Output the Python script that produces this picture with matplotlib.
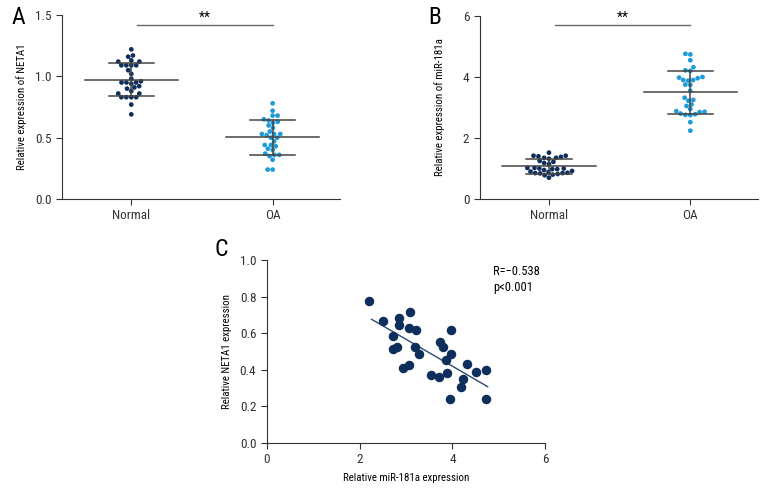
import numpy as np
import matplotlib
matplotlib.use("Agg")
import matplotlib.pyplot as plt
from matplotlib import font_manager
import seaborn as sns

# pick a narrow face if one is installed
installed = {f.name for f in font_manager.fontManager.ttflist}
narrow = [n for n in ['Liberation Sans Narrow', 'Roboto Condensed', 'Open Sans Condensed']
          if n in installed]
plt.rcParams['font.family'] = narrow + ['DejaVu Sans']
plt.rcParams['font.stretch'] = 'condensed'
plt.rcParams['font.size'] = 9

dark = '#0e2f5c'
light = '#1d9ad8'
line_col = '#444444'

groups = ['Normal', 'OA']

# Panel A: relative expression of NETA1
neta1_normal = [1.22, 1.17, 1.16, 1.13, 1.12, 1.12, 1.09, 1.09, 1.09, 1.09,
                1.05, 1.02, 0.98, 0.96, 0.95, 0.95, 0.95, 0.94, 0.92, 0.91,
                0.90, 0.88, 0.86, 0.86, 0.83, 0.83, 0.83, 0.83, 0.77, 0.69]
neta1_oa = [0.78, 0.72, 0.68, 0.68, 0.65, 0.64, 0.63, 0.62, 0.60, 0.58,
            0.55, 0.53, 0.53, 0.53, 0.52, 0.50, 0.50, 0.47, 0.44, 0.44,
            0.43, 0.41, 0.40, 0.37, 0.36, 0.36, 0.35, 0.32, 0.24, 0.24]

# Panel B: relative expression of miR-181a
mir_normal = [1.52, 1.42, 1.42, 1.40, 1.38, 1.35, 1.35, 1.32, 1.22, 1.18,
              1.25, 1.15, 1.02, 1.00, 0.98, 1.02, 1.00, 0.98, 0.95, 0.92,
              0.90, 0.88, 0.86, 0.85, 0.85, 0.84, 0.82, 0.80, 0.78, 0.70]
mir_oa = [4.76, 4.74, 4.55, 4.32, 4.22, 4.20, 4.00, 3.98, 3.96, 3.90,
          3.90, 3.88, 3.75, 3.74, 3.55, 3.32, 3.25, 3.22, 3.10, 3.05,
          2.95, 2.88, 2.86, 2.85, 2.80, 2.78, 2.76, 2.75, 2.52, 2.24]

# Panel C: correlation
corr_x = [2.21, 2.51, 2.85, 2.86, 3.09, 3.07, 3.22, 2.73, 2.71, 2.80,
          3.20, 3.28, 2.93, 3.07, 3.53, 3.71, 3.74, 3.79, 3.97, 3.97,
          3.86, 3.88, 3.95, 4.18, 4.22, 4.31, 4.50, 4.73, 4.72]
corr_y = [0.777, 0.664, 0.681, 0.646, 0.715, 0.626, 0.617, 0.584, 0.515, 0.526,
          0.526, 0.484, 0.409, 0.427, 0.369, 0.358, 0.551, 0.526, 0.617, 0.484,
          0.451, 0.380, 0.239, 0.307, 0.352, 0.429, 0.387, 0.401, 0.241]
corr_text = 'R=\u22120.538\np<0.001'


def dot_panel(ax, a, b, ylim, yticks, ylabel, sig_y):
    vals = a + b
    cats = [groups[0]] * len(a) + [groups[1]] * len(b)
    sns.swarmplot(x=cats, y=vals, hue=cats, palette=[dark, light], size=3.4,
                  linewidth=0, ax=ax, legend=False)
    for i, d in enumerate([a, b]):
        m, s = np.mean(d), np.std(d, ddof=1)
        ax.plot([i - 0.33, i + 0.33], [m, m], color=line_col, lw=1.1, zorder=5)
        ax.plot([i - 0.16, i + 0.16], [m + s, m + s], color=line_col, lw=1.1, zorder=5)
        ax.plot([i - 0.16, i + 0.16], [m - s, m - s], color=line_col, lw=1.1, zorder=5)
        ax.plot([i, i], [m - s, m + s], color=line_col, lw=1.1, zorder=5)
    ax.plot([0.04, 1.0], [sig_y, sig_y], color='#666666', lw=1.0)
    ax.text(0.52, sig_y, '**', ha='center', va='bottom', fontsize=10)
    ax.set_xlim(-0.49, 1.48)
    ax.set_ylim(*ylim)
    ax.set_yticks(yticks)
    ax.set_ylabel(ylabel, fontsize=7.8)
    ax.yaxis.set_label_coords(-0.124, 0.5)
    ax.set_xlabel('')
    for sp in ['top', 'right']:
        ax.spines[sp].set_visible(False)


fig = plt.figure(figsize=(7.8, 4.92), dpi=100)

axA = fig.add_axes([0.0795, 0.5955, 0.357, 0.374])
dot_panel(axA, neta1_normal, neta1_oa, (0, 1.5), [0.0, 0.5, 1.0, 1.5],
          'Relative expression of NETA1', 1.42)
axA.set_yticklabels(['0.0', '0.5', '1.0', '1.5'])

axB = fig.add_axes([0.615, 0.5955, 0.357, 0.372])
dot_panel(axB, mir_normal, mir_oa, (0, 6), [0, 2, 4, 6],
          'Relative expression of miR-181a', 5.7)

axC = fig.add_axes([0.342, 0.0996, 0.357, 0.372])
axC.scatter(corr_x, corr_y, s=34, color=dark, zorder=3)
k, c = np.polyfit(corr_x, corr_y, 1)
xs = np.array([min(corr_x) + 0.05, max(corr_x) + 0.03])
axC.plot(xs, k * xs + c, color='#2a4a72', lw=1.0)
axC.set_xlim(0, 6)
axC.set_ylim(0, 1.0)
axC.set_xticks([0, 2, 4, 6])
axC.set_yticks([0.0, 0.2, 0.4, 0.6, 0.8, 1.0])
axC.set_yticklabels(['0.0', '0.2', '0.4', '0.6', '0.8', '1.0'])
axC.set_xlabel('Relative miR-181a expression', fontsize=7.8)
axC.xaxis.set_label_coords(0.5, -0.165)
axC.set_ylabel('Relative NETA1 expression', fontsize=7.8)
axC.yaxis.set_label_coords(-0.126, 0.5)
axC.text(4.88, 0.97, corr_text, va='top', ha='left', fontsize=9, linespacing=1.3)
for sp in ['top', 'right']:
    axC.spines[sp].set_visible(False)

for ax in [axA, axB, axC]:
    for sp in ['left', 'bottom']:
        ax.spines[sp].set_color('#333333')
    ax.tick_params(colors='#333333', length=4, labelsize=9.5)

fig.text(12 / 780, 1 - 18 / 492, 'A', fontsize=17, ha='left', va='center')
fig.text(428 / 780, 1 - 18 / 492, 'B', fontsize=17, ha='left', va='center')
fig.text(214 / 780, 1 - 250 / 492, 'C', fontsize=17, ha='left', va='center')

fig.savefig('out.png', dpi=100)
